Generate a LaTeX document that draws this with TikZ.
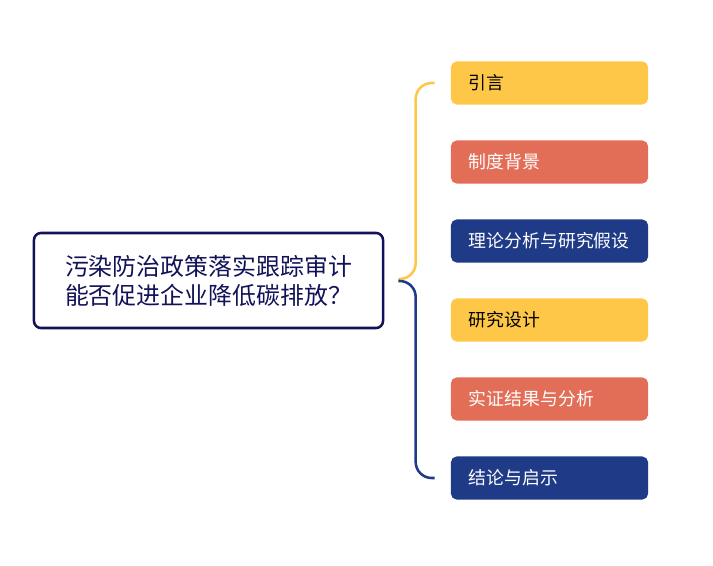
\documentclass[tikz,border=0pt]{standalone}
\usepackage{fontspec}
\usepackage{tikz}
\usetikzlibrary{calc, positioning}
\newfontfamily\cjk{Noto Sans CJK SC}
\definecolor{topicnavy}{RGB}{18,18,88}
\definecolor{boxyellow}{RGB}{255,199,71}
\definecolor{boxcoral}{RGB}{227,110,88}
\definecolor{boxnavy}{RGB}{31,59,136}

\begin{document}
\begin{tikzpicture}[x=0.025cm, y=-0.025cm,
                   topic/.style={draw=topicnavy, line width=1.8pt, rounded corners=5pt, fill=white,
                                 minimum width=8.725cm, minimum height=2.375cm, align=left,
                                 text=topicnavy, font=\cjk\fontsize{17}{20.6}\selectfont},
                   part/.style={rounded corners=4pt, text width=4.025cm, inner xsep=0.45cm,
                                minimum height=1.075cm, align=left, font=\cjk\fontsize{12.7}{15}\selectfont},
                   ypart/.style={part, fill=boxyellow, text=black},
                   cpart/.style={part, fill=boxcoral, text=white},
                   npart/.style={part, fill=boxnavy, text=white},
                   branch/.style={line width=1.8pt, rounded corners=0.4cm}]
                  \useasboundingbox (0,0) rectangle (713,566);
                  \node[topic] (main) at (208.5,280.5) {污染防治政策落实跟踪审计\\能否促进企业降低碳排放？};
                  \node[ypart] (p1) at (549.5,83) {引言};
                  \node[cpart] (p2) at (549.5,162) {制度背景};
                  \node[npart] (p3) at (549.5,241) {理论分析与研究假设};
                  \node[ypart] (p4) at (549.5,320) {研究设计};
                  \node[cpart] (p5) at (549.5,399) {实证结果与分析};
                  \node[npart] (p6) at (549.5,478) {结论与启示};
                  \coordinate (up) at ($(main.east)+(14,-1.5)$);
                  \coordinate (down) at ($(main.east)+(14,0.5)$);
                  \draw[branch, boxyellow] (up) -| ($(p1.west)+(-35,0)$) -- ($(p1.west)+(-16,0)$);
                  \draw[branch, boxnavy] (down) -| ($(p6.west)+(-35,0)$) -- ($(p6.west)+(-16,0)$);
               \end{tikzpicture}
\end{document}
